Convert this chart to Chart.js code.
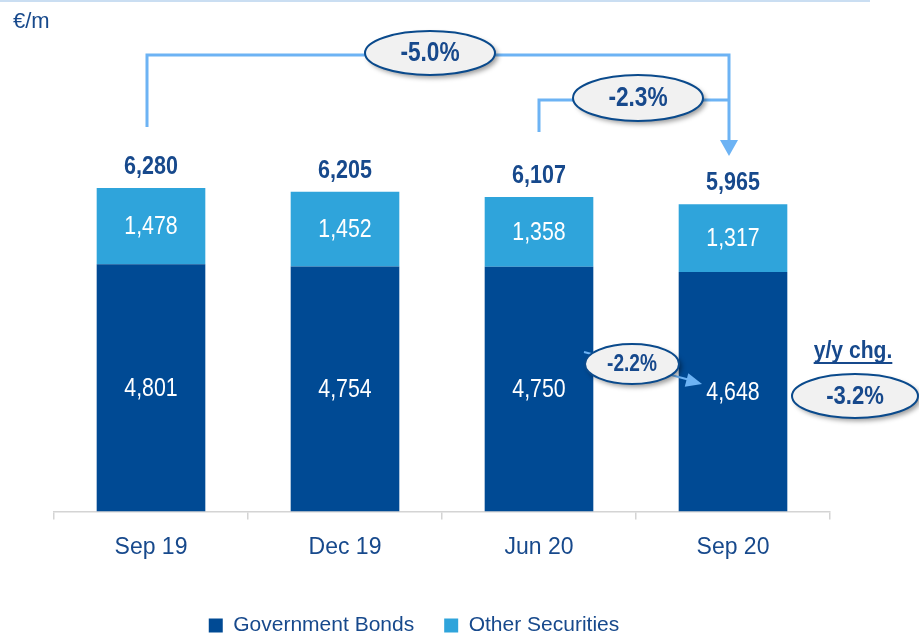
<!DOCTYPE html>
<html>
<head>
<meta charset="utf-8">
<script src="https://cdn.jsdelivr.net/npm/chart.js@4.4.1/dist/chart.umd.min.js"></script>
<style>
html,body{margin:0;padding:0;background:#fff;}
#wrap{position:relative;width:919px;height:634px;}
</style>
</head>
<body>
<div id="wrap"><canvas id="c" width="919" height="634"></canvas></div>
<script>
const categories = ["Sep 19", "Dec 19", "Jun 20", "Sep 20"];
const governmentBonds = [4801, 4754, 4750, 4648];
const otherSecurities = [1478, 1452, 1358, 1317];
const totals = [6280, 6205, 6107, 5965];
const changeLabels = { yearOnYearTotal: "-5.0%", quarterTotal: "-2.3%", quarterBonds: "-2.2%", yearOnYearBonds: "-3.2%" };
const unitLabel = "€/m";
const yyLabel = "y/y chg.";

const DARK = "#004a94";
const LIGHT = "#2fa4db";
const TEXT = "#17498c";
const LINE = "#6db3f4";
const FONT = "'Liberation Sans',Arial,sans-serif";

function txt(ctx, s, x, y, size, bold, color, sx) {
  ctx.save();
  ctx.translate(x, y);
  ctx.scale(sx, 1);
  ctx.font = (bold ? "bold " : "") + size + "px " + FONT;
  ctx.fillStyle = color;
  ctx.textAlign = "center";
  ctx.textBaseline = "middle";
  ctx.fillText(s, 0, 0);
  const w = ctx.measureText(s).width * sx;
  ctx.restore();
  return w;
}

function ellipse(ctx, cx, cy, rx, ry, text, size, sx) {
  ctx.save();
  ctx.shadowColor = "rgba(0,0,0,0.4)";
  ctx.shadowBlur = 5;
  ctx.shadowOffsetX = 3;
  ctx.shadowOffsetY = 3;
  ctx.beginPath();
  ctx.ellipse(cx, cy, rx, ry, 0, 0, Math.PI * 2);
  ctx.fillStyle = "#f1f1f1";
  ctx.fill();
  ctx.restore();
  ctx.save();
  ctx.beginPath();
  ctx.ellipse(cx, cy, rx, ry, 0, 0, Math.PI * 2);
  ctx.lineWidth = 2;
  ctx.strokeStyle = "#0a4a8c";
  ctx.stroke();
  ctx.restore();
  txt(ctx, text, cx, cy + 1, size, true, TEXT, sx);
}

function arrowHead(ctx, x, y, angle, len, w, color) {
  ctx.save();
  ctx.translate(x, y);
  ctx.rotate(angle);
  ctx.beginPath();
  ctx.moveTo(0, 0);
  ctx.lineTo(-len, -w);
  ctx.lineTo(-len, w);
  ctx.closePath();
  ctx.fillStyle = color;
  ctx.fill();
  ctx.restore();
}

const legendShift = {
  id: "legendShift",
  afterLayout(chart) {
    const lg = chart.legend;
    if (!lg) return;
    lg.left -= 28; lg.right -= 28;
    lg.top += 12; lg.bottom += 12;
  }
};

const annotations = {
  id: "annotations",
  afterDatasetsDraw(chart) {
    const ctx = chart.ctx;
    const xs = chart.scales.x, ys = chart.scales.y;
    const meta0 = chart.getDatasetMeta(0), meta1 = chart.getDatasetMeta(1);
    ctx.save();
    for (let i = 0; i < categories.length; i++) {
      const b0 = meta0.data[i], b1 = meta1.data[i];
      txt(ctx, governmentBonds[i].toLocaleString("en-US"), b0.x, (b0.y + b0.base) / 2 + 1, 26, false, "#ffffff", 0.82);
      txt(ctx, otherSecurities[i].toLocaleString("en-US"), b1.x, (b1.y + b1.base) / 2 + 1, 26, false, "#ffffff", 0.82);
      txt(ctx, totals[i].toLocaleString("en-US"), b1.x, ys.getPixelForValue(totals[i]) - 21, 25, true, TEXT, 0.86);
    }
    // top rule
    ctx.strokeStyle = "#b9d3ee";
    ctx.lineWidth = 1.5;
    ctx.beginPath(); ctx.moveTo(0, 1); ctx.lineTo(870, 1); ctx.stroke();
    // unit
    ctx.fillStyle = TEXT;
    ctx.font = "22px " + FONT;
    ctx.textAlign = "left";
    ctx.textBaseline = "middle";
    ctx.fillText(unitLabel, 13, 22);

    // brackets
    const x0 = xs.getPixelForValue(0) - 4;
    const x2 = xs.getPixelForValue(2);
    const x3 = xs.getPixelForValue(3) - 4;
    ctx.strokeStyle = LINE;
    ctx.lineWidth = 3;
    ctx.beginPath();
    ctx.moveTo(x0, 127); ctx.lineTo(x0, 55); ctx.lineTo(x3, 55); ctx.lineTo(x3, 142);
    ctx.stroke();
    ctx.beginPath();
    ctx.moveTo(x2, 132); ctx.lineTo(x2, 100); ctx.lineTo(x3, 100);
    ctx.stroke();
    arrowHead(ctx, x3, 156, Math.PI / 2, 16, 9, LINE);

    ellipse(ctx, 430, 53, 65, 22, changeLabels.yearOnYearTotal, 27, 0.84);
    ellipse(ctx, 638, 98, 65, 23, changeLabels.quarterTotal, 27, 0.84);

    // bond arrow
    ctx.strokeStyle = LINE;
    ctx.lineWidth = 2;
    ctx.beginPath(); ctx.moveTo(584, 352); ctx.lineTo(690, 380); ctx.stroke();
    arrowHead(ctx, 702, 384, Math.atan2(31, 118), 16, 7, LINE);
    ellipse(ctx, 632, 364, 47, 20, changeLabels.quarterBonds, 23, 0.83);

    // y/y
    const w = txt(ctx, yyLabel, 853, 351, 24, true, TEXT, 0.88);
    ctx.strokeStyle = TEXT; ctx.lineWidth = 2;
    ctx.beginPath(); ctx.moveTo(853 - w / 2, 363); ctx.lineTo(853 + w / 2, 363); ctx.stroke();
    ellipse(ctx, 855, 396, 63, 22, changeLabels.yearOnYearBonds, 26, 0.85);
    ctx.restore();
  }
};

new Chart(document.getElementById("c"), {
  type: "bar",
  data: {
    labels: categories,
    datasets: [
      { label: "Government Bonds", data: governmentBonds, backgroundColor: DARK, stack: "s", categoryPercentage: 1, barPercentage: 0.56 },
      { label: "Other Securities", data: otherSecurities, backgroundColor: LIGHT, stack: "s", categoryPercentage: 1, barPercentage: 0.56 }
    ]
  },
  options: {
    responsive: false,
    animation: false,
    layout: { padding: { left: 54, right: 89, top: 48, bottom: 0 } },
    scales: {
      x: {
        stacked: true,
        border: { display: true, color: "#d4d4d4", width: 1.5 },
        grid: { display: true, offset: true, drawOnChartArea: false, drawTicks: true, tickLength: 8, color: "#d4d4d4", lineWidth: 1.5 },
        ticks: { color: TEXT, font: { family: FONT, size: 23 }, padding: 14 },
        afterFit(scale) { scale.height -= 2; }
      },
      y: { stacked: true, display: false, min: 0, max: 9000 }
    },
    plugins: {
      legend: {
        position: "bottom",
        labels: { color: TEXT, font: { family: FONT, size: 21 }, boxWidth: 14, boxHeight: 14, padding: 30, useBorderRadius: false }
      },
      tooltip: { enabled: false }
    }
  },
  plugins: [legendShift, annotations]
});
</script>
</body>
</html>
